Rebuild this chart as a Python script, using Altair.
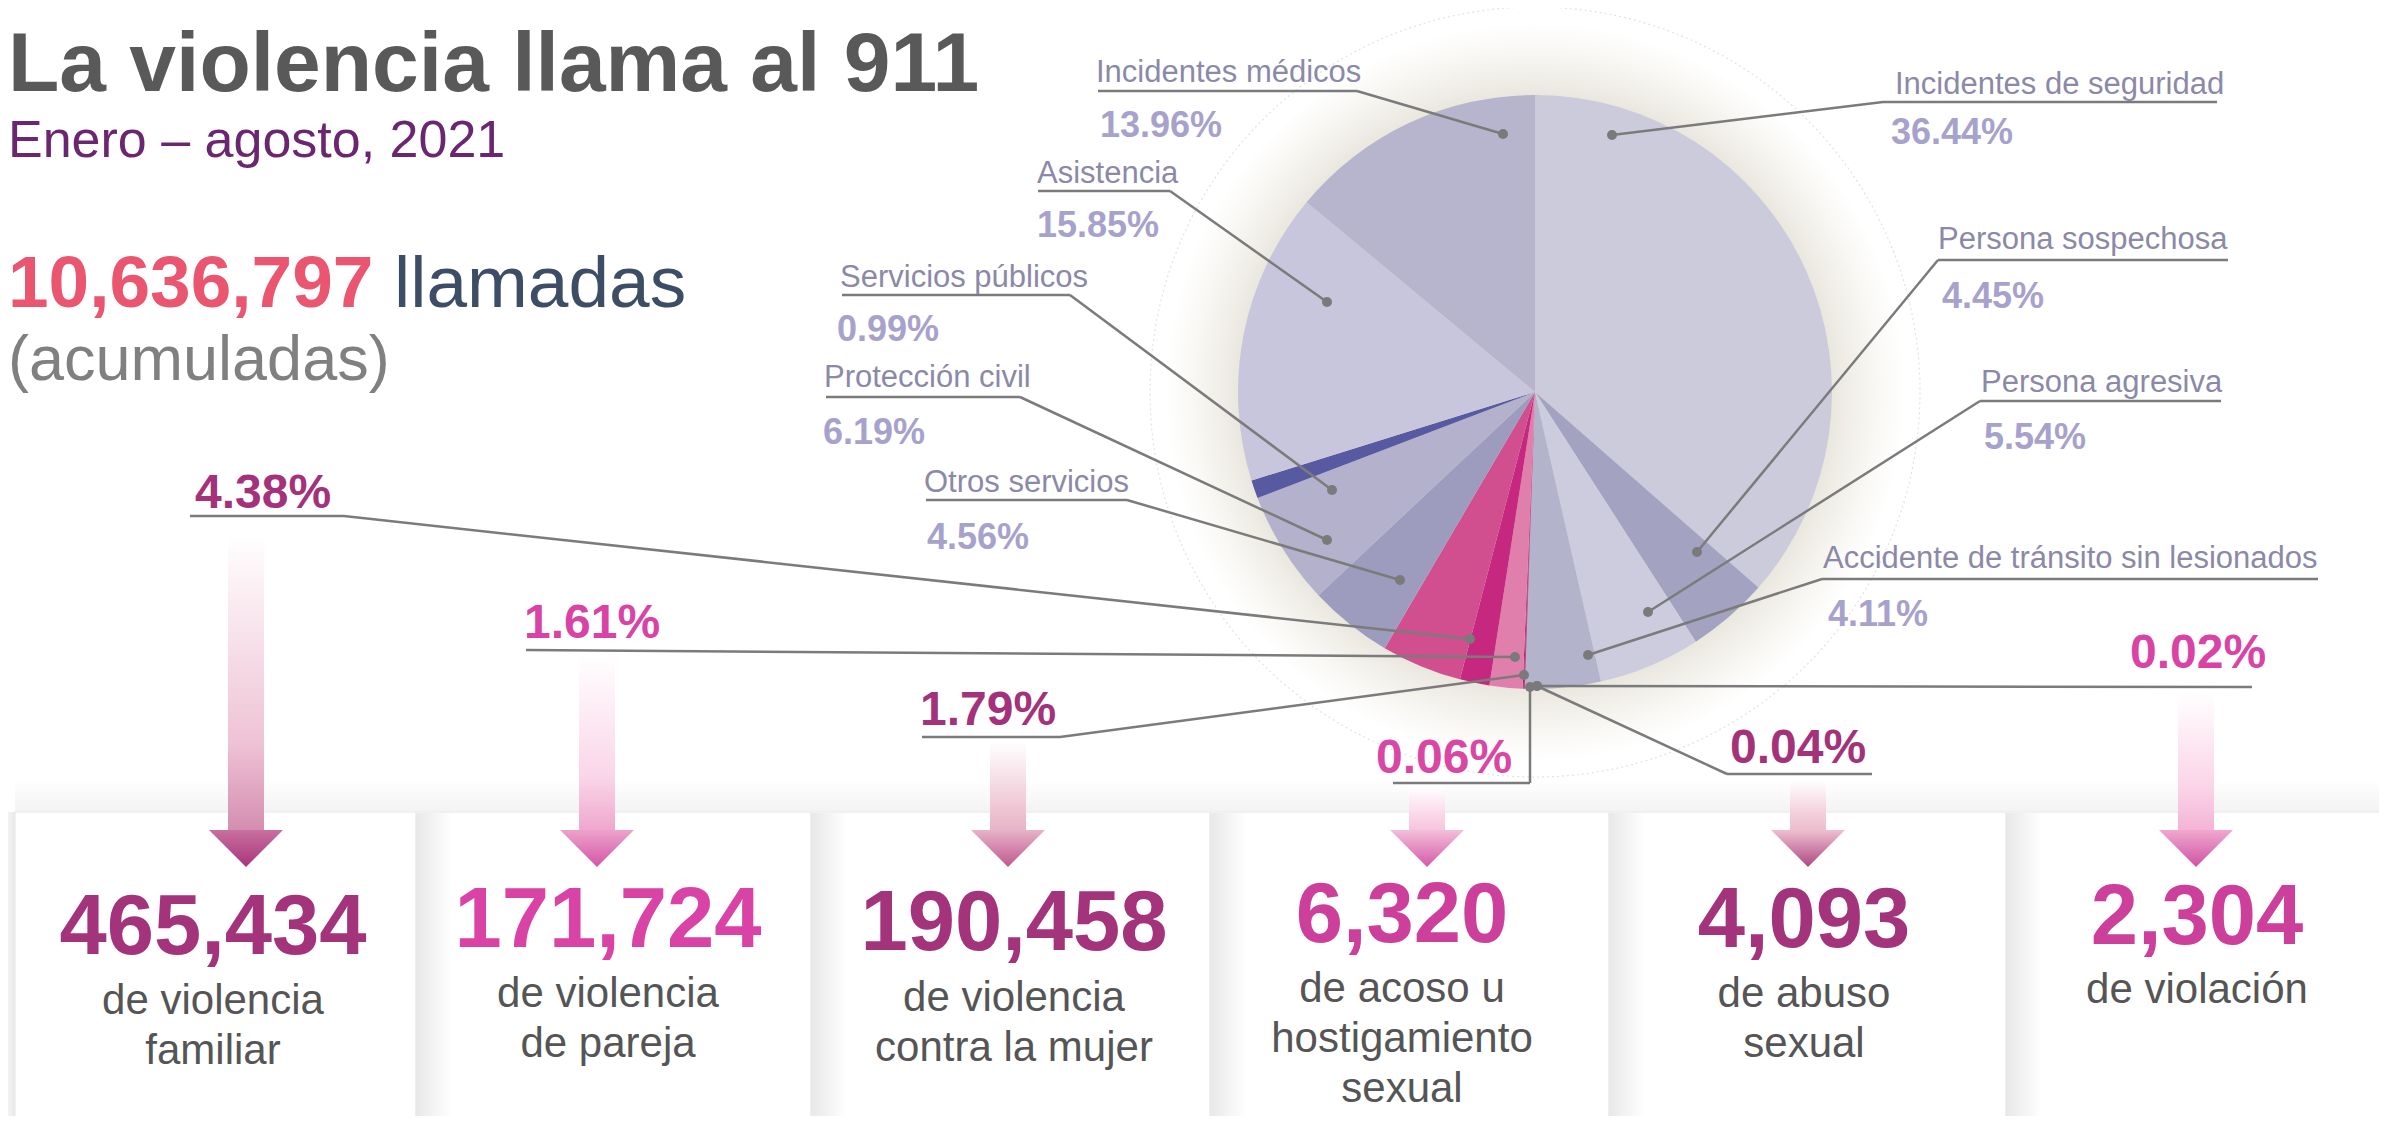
import altair as alt
import pandas as pd

# ------------------------------------------------------------------ DATA
title = "La violencia llama al 911"
subtitle = "Enero – agosto, 2021"
total_calls = 10636797
calls_word = "llamadas"
calls_note = "(acumuladas)"

service_names = ["Incidentes de seguridad", "Persona sospechosa", "Persona agresiva",
                 "Accidente de tránsito sin lesionados", "Otros servicios",
                 "Protección civil", "Servicios públicos", "Asistencia",
                 "Incidentes médicos"]
service_pct = [36.44, 4.45, 5.54, 4.11, 4.56, 6.19, 0.99, 15.85, 13.96]

violence_names = ["Violencia familiar", "Violencia de pareja", "Violencia contra la mujer",
                  "Acoso u hostigamiento sexual", "Abuso sexual", "Violación"]
violence_pct = [4.38, 1.61, 1.79, 0.06, 0.04, 0.02]
violence_calls = [465434, 171724, 190458, 6320, 4093, 2304]
violence_desc = [["de violencia", "familiar"], ["de violencia", "de pareja"],
                 ["de violencia", "contra la mujer"],
                 ["de acoso u", "hostigamiento", "sexual"],
                 ["de abuso", "sexual"], ["de violación"]]

# ------------------------------------------------------------------ STYLE
FONT = "Liberation Sans"
slice_color = {
    "Incidentes de seguridad": "#cccbdb", "Persona sospechosa": "#a3a2c0",
    "Persona agresiva": "#cdccde", "Accidente de tránsito sin lesionados": "#b4b3cc",
    "Violación": "#b01e6e", "Abuso sexual": "#a61a68",
    "Acoso u hostigamiento sexual": "#b8226f", "Violencia contra la mujer": "#e07fab",
    "Violencia de pareja": "#c5287e", "Violencia familiar": "#d14f8e",
    "Otros servicios": "#9e9cbe", "Protección civil": "#b3b1cb",
    "Servicios públicos": "#585aa1", "Asistencia": "#c8c6dc",
    "Incidentes médicos": "#b6b5cd"}
LABEL_COLOR = "#8b89a8"
PCT_COLOR = "#a6a2cc"
LINE_COLOR = "#7b7b7b"
DOT_COLOR = "#7a7a7a"
violence_num_color = ["#a3337b", "#d943a5", "#a3337b", "#cc3f9a", "#a3337b", "#cc3f9a"]
violence_pct_color = ["#a3327a", "#d943a5", "#a3327a", "#d947a5", "#a3327a", "#d943a5"]
shaft_mid = ["#efc3d5", "#fad5e8", "#f0c9d6", "#fad3e6", "#f2cdd9", "#fbd3e7"]
shaft_low = ["#d48db0", "#efa6cd", "#e7b3c6", "#f5c4dc", "#ebbccd", "#f3b3d5"]
head_top = ["#c8709f", "#eca3cb", "#e6b4c8", "#f3bfd9", "#eec0d0", "#f0a8cf"]
head_tip = ["#a8357c", "#d455a8", "#c0578f", "#d35aa8", "#ad4883", "#cf52a5"]

# ------------------------------------------------------------------ LAYOUT (reference px)
X0, X1, Y0, Y1 = 8, 2379, 8, 1116
PIE_C = (1535, 392)
PIE_R = 297
HALO_R = 385

service_layout = {
    "Incidentes de seguridad": (1895, 94, 1891, 144, [(2217, 102), (1883, 102), (1612, 135)]),
    "Persona sospechosa": (1938, 249, 1942, 308, [(2228, 260), (1938, 260), (1697, 552)]),
    "Persona agresiva": (1981, 392, 1984, 449, [(2221, 401), (1980, 401), (1648, 612)]),
    "Accidente de tránsito sin lesionados": (1823, 568, 1828, 626, [(2318, 579), (1822, 579), (1588, 655)]),
    "Incidentes médicos": (1096, 82, 1100, 137, [(1098, 91), (1357, 91), (1503, 134)]),
    "Asistencia": (1037, 183, 1037, 237, [(1038, 191), (1170, 191), (1327, 302)]),
    "Servicios públicos": (840, 287, 837, 341, [(842, 295), (1070, 295), (1332, 490)]),
    "Protección civil": (824, 387, 823, 444, [(826, 397), (1020, 397), (1327, 540)]),
    "Otros servicios": (924, 492, 927, 549, [(926, 500), (1127, 500), (1400, 580)]),
}
violence_layout = [
    (195, 508, [(190, 516), (344, 516), (1470, 639)]),
    (524, 638, [(526, 650), (1515, 657)]),
    (920, 725, [(922, 737), (1060, 737), (1524, 675)]),
    (1376, 773, [(1393, 783), (1530, 783), (1530, 687)]),
    (1730, 763, [(1872, 774), (1727, 774), (1537, 686)]),
    (2130, 668, [(2252, 687), (1537, 686)]),
]
arrow_x = [246, 597, 1008, 1427, 1808, 2196]
shaft_top = [535, 655, 742, 787, 780, 692]
HEAD_TOP, HEAD_TIP, SHAFT_W, HEAD_W = 830, 867, 36, 74
card_edges = [15, 416, 811, 1210, 1609, 2006, 2390]
CARD_TOP, CARD_BOTTOM = 812, 1130
num_x = [213, 608, 1014, 1402, 1804, 2197]
num_y = [954, 947, 950, 942, 947, 944]
desc_y = [1014, 1007, 1011, 1002, 1007, 1003]
DESC_STEP = 50

# ------------------------------------------------------------------ HELPERS
xs = alt.Scale(domain=[X0, X1], nice=False, zero=False)
ys = alt.Scale(domain=[Y0, Y1], nice=False, zero=False, reverse=True)


def X(f="x"):
    return alt.X(f"{f}:Q", scale=xs, axis=None)


def Y(f="y"):
    return alt.Y(f"{f}:Q", scale=ys, axis=None)


def grad(stops, vertical=True):
    return alt.LinearGradient(
        gradient="linear",
        stops=[alt.GradientStop(offset=o, color=c) for o, c in stops],
        x1=0, y1=0, x2=0 if vertical else 1, y2=1 if vertical else 0)


def text_layer(rows, size, color, weight="normal", align="left"):
    return alt.Chart(pd.DataFrame(rows)).mark_text(
        align=align, baseline="alphabetic", font=FONT, fontSize=size,
        fontWeight=weight, color=color).encode(x=X(), y=Y(), text="text:N")


layers = []

# band / cards
layers.append(alt.Chart(pd.DataFrame([{"x": card_edges[0], "x2": card_edges[-1], "y": 780, "y2": CARD_TOP}]))
              .mark_rect(fill=grad([(0, "#ffffff"), (1, "#f3f3f3")])).encode(x=X(), x2="x2:Q", y=Y(), y2="y2:Q"))
cards = pd.DataFrame({"x": card_edges[:-1], "x2": card_edges[1:], "y": CARD_TOP, "y2": CARD_BOTTOM})
layers.append(alt.Chart(cards).mark_rect(fill="white", stroke="#eeeeee", strokeWidth=1.5)
              .encode(x=X(), x2="x2:Q", y=Y(), y2="y2:Q"))
shadows = pd.DataFrame({"x": card_edges[1:-1], "x2": [e + 36 for e in card_edges[1:-1]],
                        "y": CARD_TOP + 1, "y2": CARD_BOTTOM})
layers.append(alt.Chart(shadows).mark_rect(fill=grad([(0, "#e8e8e8"), (1, "#ffffff")], vertical=False))
              .encode(x=X(), x2="x2:Q", y=Y(), y2="y2:Q"))
layers.append(alt.Chart(pd.DataFrame([{"x": 0, "x2": card_edges[0], "y": CARD_TOP, "y2": CARD_BOTTOM}]))
              .mark_rect(fill=grad([(0, "#ffffff"), (1, "#e8e8e8")], vertical=False))
              .encode(x=X(), x2="x2:Q", y=Y(), y2="y2:Q"))

# halo
halo = pd.DataFrame([{"cx": PIE_C[0], "cy": PIE_C[1]}])
layers.append(alt.Chart(halo).mark_arc(
    radius=HALO_R, theta=0, theta2=6.2832,
    fill=alt.RadialGradient(gradient="radial", x1=0.5, y1=0.5, r1=0, x2=0.5, y2=0.5, r2=0.5,
                            stops=[alt.GradientStop(offset=0, color="#e6e3da"),
                                   alt.GradientStop(offset=0.76, color="#e8e5dc"),
                                   alt.GradientStop(offset=0.81, color="#efede6"),
                                   alt.GradientStop(offset=0.89, color="#f9f8f5"),
                                   alt.GradientStop(offset=0.96, color="#ffffff"),
                                   alt.GradientStop(offset=1, color="#ffffff")]))
    .encode(x=X("cx"), y=Y("cy")))
layers.append(alt.Chart(halo).mark_arc(
    radius=HALO_R, theta=0, theta2=6.2832, fillOpacity=0, stroke="#e2e2e2",
    strokeWidth=1.2, strokeDash=[2, 3]).encode(x=X("cx"), y=Y("cy")))

# pie
pie_names = service_names[:4] + violence_names[::-1] + service_names[4:]
pie_pct = service_pct[:4] + violence_pct[::-1] + service_pct[4:]
pie_df = pd.DataFrame({"name": pie_names, "pct": pie_pct,
                       "color": [slice_color[n] for n in pie_names],
                       "idx": list(range(len(pie_names))),
                       "cx": PIE_C[0], "cy": PIE_C[1]})
layers.append(alt.Chart(pie_df).mark_arc(radius=PIE_R).encode(
    theta=alt.Theta("pct:Q", stack=True),
    order=alt.Order("idx:Q", sort="ascending"),
    color=alt.Color("color:N", scale=None),
    x=X("cx"), y=Y("cy")))

# leader lines + dots
segs, dots = [], []
polys = [service_layout[n][4] for n in service_names] + [v[2] for v in violence_layout]
for pts in polys:
    for (a, b), (c, d) in zip(pts[:-1], pts[1:]):
        segs.append({"x": a, "y": b, "x2": c, "y2": d})
    dots.append({"x": pts[-1][0], "y": pts[-1][1]})
layers.append(alt.Chart(pd.DataFrame(segs)).mark_rule(color=LINE_COLOR, strokeWidth=2.5)
              .encode(x=X(), x2="x2:Q", y=Y(), y2="y2:Q"))
layers.append(alt.Chart(pd.DataFrame(dots)).mark_circle(color=DOT_COLOR, size=100, opacity=1)
              .encode(x=X(), y=Y()))

# service labels
lab_rows, pct_rows = [], []
for n, p in zip(service_names, service_pct):
    lx, ly, px, py, _ = service_layout[n]
    lab_rows.append({"x": lx, "y": ly, "text": n})
    pct_rows.append({"x": px, "y": py, "text": f"{p:.2f}%"})
layers.append(text_layer(lab_rows, 31, LABEL_COLOR))
layers.append(text_layer(pct_rows, 36, PCT_COLOR, "bold"))

# arrows
for i in range(6):
    ax = arrow_x[i]
    layers.append(alt.Chart(pd.DataFrame([{"x": ax - SHAFT_W / 2, "x2": ax + SHAFT_W / 2,
                                           "y": shaft_top[i], "y2": HEAD_TOP + 1}]))
                  .mark_rect(fill=grad([(0, "#ffffff"), (0.7, shaft_mid[i]), (1, shaft_low[i])]))
                  .encode(x=X(), x2="x2:Q", y=Y(), y2="y2:Q"))
    layers.append(alt.Chart(pd.DataFrame([{"x": ax, "y": (HEAD_TOP + HEAD_TIP) / 2}]))
                  .mark_point(shape="M-1,-0.5L1,-0.5L0,0.5Z", size=HEAD_W ** 2, filled=True,
                              opacity=1, strokeWidth=0,
                              fill=grad([(0, head_top[i]), (1, head_tip[i])]))
                  .encode(x=X(), y=Y()))

# violence percentages
for i in range(6):
    tx, ty, _ = violence_layout[i]
    layers.append(text_layer([{"x": tx, "y": ty, "text": f"{violence_pct[i]:.2f}%"}],
                             48, violence_pct_color[i], "bold"))

# card numbers and descriptions
for i in range(6):
    layers.append(text_layer([{"x": num_x[i], "y": num_y[i], "text": f"{violence_calls[i]:,}"}],
                             85, violence_num_color[i], "bold", "center"))
desc_rows = []
for i in range(6):
    for j, line in enumerate(violence_desc[i]):
        desc_rows.append({"x": num_x[i], "y": desc_y[i] + j * DESC_STEP, "text": line})
layers.append(text_layer(desc_rows, 42, "#555555", "normal", "center"))

# header
layers.append(text_layer([{"x": 8, "y": 91, "text": title}], 84, "#595959", "bold"))
layers.append(text_layer([{"x": 8, "y": 157, "text": subtitle}], 52, "#6b2670"))
layers.append(text_layer([{"x": 8, "y": 307, "text": f"{total_calls:,}"}], 73, "#ea5670", "bold"))
layers.append(text_layer([{"x": 394, "y": 307, "text": calls_word}], 73, "#3e4d66"))
layers.append(text_layer([{"x": 8, "y": 380, "text": calls_note}], 63, "#808080"))

chart = alt.layer(*layers).properties(
    width=X1 - X0, height=Y1 - Y0, padding=0,
    autosize=alt.AutoSizeParams(type="none"),
    background="white",
).configure_view(stroke=None)

chart.save("out.html", embed_options={"renderer": "svg", "actions": False})
